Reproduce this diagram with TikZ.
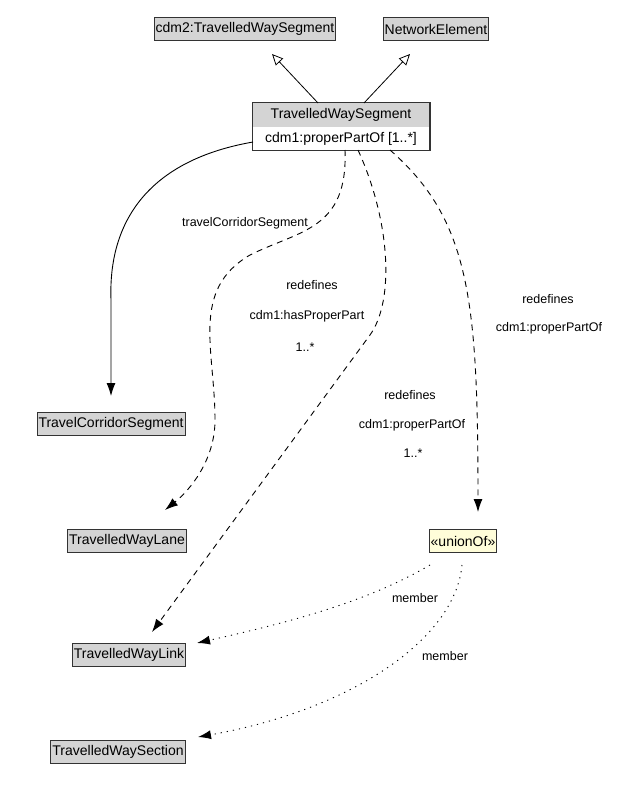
\documentclass[tikz,border=0pt]{standalone}
\usepackage{fontspec}
\setmainfont{Liberation Sans}
\usetikzlibrary{arrows.meta}
\begin{document}
\begin{tikzpicture}[x=1pt,y=-1pt,
  cls/.style={draw=black!80,fill=black!17,font=\fontsize{14}{16}\selectfont,inner sep=1.5pt,minimum height=23pt,line width=0.9pt},
  lbl/.style={font=\fontsize{12.5}{14}\selectfont},
  tip/.style={-{Latex[length=13pt,width=9pt]}},
  gen/.style={-{Triangle[open,length=11pt,width=10pt]},line width=0.8pt},
  dsh/.style={tip,dash pattern=on 6pt off 5pt,line width=0.9pt},
  dot/.style={tip,dash pattern=on 1.2pt off 5pt,line width=0.9pt}]
\useasboundingbox (0,0) rectangle (621,803);
\node[cls] (cdm2) at (245,29) {cdm2:TravelledWaySegment};
\node[cls] (ne) at (436,29) {NetworkElement};
\node[draw=black!80,fill=white,line width=0.9pt,minimum width=177pt,minimum height=47pt] (tws) at (341,126.5) {};
\fill[black!17] ([xshift=0.5pt,yshift=-0.5pt]tws.north west) rectangle ([xshift=-0.5pt]tws.east);
\draw[black!80,line width=0.9pt] (tws.north west) rectangle (tws.south east);
\node[font=\fontsize{14}{16}\selectfont] (twsh) at (341,115) {TravelledWaySegment};
\node[font=\fontsize{14}{16}\selectfont] (twsa) at (341,139) {cdm1:properPartOf [1..*]};
\node[cls] (tcs) at (111,424) {TravelCorridorSegment};
\node[cls] (lane) at (127,541) {TravelledWayLane};
\node[cls,fill=yellow!15] (union) at (463,541) {«unionOf»};
\node[cls] (link) at (129,655) {TravelledWayLink};
\node[cls] (sect) at (118,752) {TravelledWaySection};
\coordinate (g1) at (318,103); \coordinate (g2) at (364,103);
\draw[gen] (g1) -- (272,54);
\draw[gen] (g2) -- (410,54);
\coordinate (s0) at (253,142);
\draw[tip,line width=0.9pt] (s0) .. controls (150,160) and (108,220) .. (111,300) -- (111,396);
\node[lbl] (l1) at (245,223) {travelCorridorSegment};
\coordinate (d1) at (345,150);
\draw[dsh] (d1) .. controls (348,230) and (300,230) .. (250,255) .. controls (190,290) and (215,350) .. (215,420) .. controls (215,460) and (190,490) .. (165,510);
\node[lbl] (l2) at (312,285) {redefines};
\node[lbl] (l3) at (307,316) {cdm1:hasProperPart};
\node[lbl] (l4) at (305,347) {1..*};
\coordinate (d2) at (358,150);
\draw[dsh] (d2) .. controls (390,220) and (395,300) .. (370,335) -- (152,632);
\node[lbl] (l5) at (410,395) {redefines};
\node[lbl] (l6) at (412,425) {cdm1:properPartOf};
\node[lbl] (l7) at (413,453) {1..*};
\coordinate (d3) at (390,150);
\draw[dsh] (d3) .. controls (470,220) and (478,300) .. (478,512);
\node[lbl] (l8) at (548,299) {redefines};
\node[lbl] (l9) at (549,328) {cdm1:properPartOf};
\coordinate (m1) at (430,565); \coordinate (m2) at (462,565);
\draw[dot] (m1) .. controls (370,600) and (300,620) .. (197,643);
\node[lbl] (l10) at (415,598) {member};
\draw[dot] (m2) .. controls (455,640) and (350,710) .. (198,737);
\node[lbl] (l11) at (445,656) {member};
\end{tikzpicture}
\end{document}
